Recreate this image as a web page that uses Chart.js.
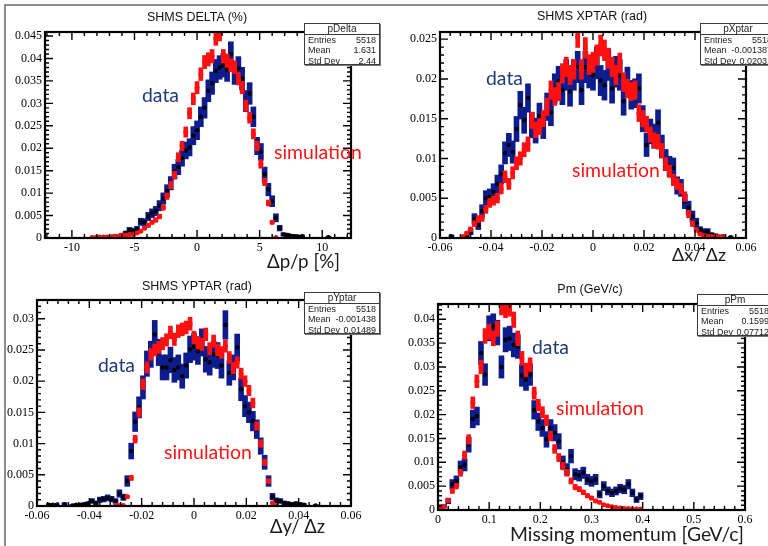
<!DOCTYPE html>
<html>
<head>
<meta charset="utf-8">
<script src="https://cdn.jsdelivr.net/npm/chart.js@4.4.1/dist/chart.umd.min.js"></script>
<style>
  html, body { margin: 0; padding: 0; background: #fff; }
  body { width: 768px; height: 546px; position: relative; overflow: hidden; }
  canvas { position: absolute; left: 0; top: 0; }
  .edge-top { position: absolute; left: 4px; top: 4px; width: 764px; height: 2px; background: #8c8c8c; }
  .edge-left { position: absolute; left: 4px; top: 4px; width: 2px; height: 542px; background: #8c8c8c; }
  .txt { position: absolute; white-space: nowrap; line-height: 1; }
  .title { font-family: 'Liberation Sans', Arial, sans-serif; font-size: 12.5px; color: #111; transform: translate(-50%, -50%); }
  .big { font-family: Lato, sans-serif; font-size: 20px; color: #1a1a1a; transform: translateY(-50%); }
  .data { color: #203a78; }
  .sim { color: #ff1414; }
  .stats { position: absolute; width: 76px; height: 42px; box-sizing: border-box; border: 1px solid #3a3a3a;
           box-shadow: 1px 1px 0 #777; background: #fff; font-family: 'Liberation Sans', Arial, sans-serif;
           font-size: 9px; color: #222; z-index: 5; }
  .stats .hd { height: 10px; line-height: 10px; text-align: center; font-size: 10px; border-bottom: 1px solid #3a3a3a; }
  .stats .row { position: relative; height: 10.3px; line-height: 10.3px; white-space: nowrap; }
  .stats .row span { position: absolute; top: 0; }
  .stats .row span:first-child { left: 3px; }
  .stats .row span:last-child { right: 3px; }
</style>
</head>
<body>
<div class="edge-top"></div>
<div class="edge-left"></div>

<canvas id="cDelta" width="768" height="546"></canvas>
<canvas id="cXptar" width="768" height="546"></canvas>
<canvas id="cYptar" width="768" height="546"></canvas>
<canvas id="cPm" width="768" height="546"></canvas>

<!-- titles -->
<div class="txt title" style="left:197px;top:17px">SHMS DELTA (%)</div>
<div class="txt title" style="left:592px;top:16px">SHMS XPTAR (rad)</div>
<div class="txt title" style="left:197px;top:286px">SHMS YPTAR (rad)</div>
<div class="txt title" style="left:590px;top:289px">Pm (GeV/c)</div>

<!-- axis labels -->
<div class="txt big fit" data-w="73" style="left:267px;top:261px">Δp/p [%]</div>
<div class="txt big fit" data-w="54" style="left:672px;top:255px">Δx/ Δz</div>
<div class="txt big fit" data-w="55" style="left:270px;top:526px">Δy/ Δz</div>
<div class="txt big fit" data-w="234" style="left:510px;top:534px">Missing momentum [GeV/c]</div>

<!-- annotations -->
<div class="txt big data fit" data-w="37" style="left:142px;top:95px">data</div>
<div class="txt big sim fit" data-w="88" style="left:274px;top:152px">simulation</div>
<div class="txt big data fit" data-w="37" style="left:486px;top:78px">data</div>
<div class="txt big sim fit" data-w="88" style="left:572px;top:170px">simulation</div>
<div class="txt big data fit" data-w="37" style="left:98px;top:365px">data</div>
<div class="txt big sim fit" data-w="88" style="left:164px;top:452px">simulation</div>
<div class="txt big data fit" data-w="37" style="left:532px;top:347px">data</div>
<div class="txt big sim fit" data-w="88" style="left:556px;top:408px">simulation</div>

<!-- stats boxes -->
<div class="stats" style="left:304px;top:23px">
  <div class="hd">pDelta</div>
  <div class="row"><span>Entries</span><span>5518</span></div>
  <div class="row"><span>Mean</span><span>1.631</span></div>
  <div class="row"><span>Std Dev</span><span>2.44</span></div>
</div>
<div class="stats" style="left:700px;top:23px">
  <div class="hd">pXptar</div>
  <div class="row"><span>Entries</span><span>5518</span></div>
  <div class="row"><span>Mean</span><span>-0.001387</span></div>
  <div class="row"><span>Std Dev</span><span>0.02031</span></div>
</div>
<div class="stats" style="left:304px;top:292px">
  <div class="hd">pYptar</div>
  <div class="row"><span>Entries</span><span>5518</span></div>
  <div class="row"><span>Mean</span><span>-0.001438</span></div>
  <div class="row"><span>Std Dev</span><span>0.01489</span></div>
</div>
<div class="stats" style="left:697px;top:294px">
  <div class="hd">pPm</div>
  <div class="row"><span>Entries</span><span>5518</span></div>
  <div class="row"><span>Mean</span><span>0.1599</span></div>
  <div class="row"><span>Std Dev</span><span>0.07712</span></div>
</div>

<script>
// ---- data (bin centres and normalised bin contents) ----
const deltaBins = [-8.4, -8.1, -7.8, -7.5, -7.2, -6.9, -6.6, -6.3, -6.0, -5.7, -5.4, -5.1, -4.8, -4.5, -4.2, -3.9,
  -3.6, -3.3, -3.0, -2.7, -2.4, -2.1, -1.8, -1.5, -1.2, -0.9, -0.6, -0.3, 0.0, 0.3, 0.6, 0.9,
  1.2, 1.5, 1.8, 2.1, 2.4, 2.7, 3.0, 3.3, 3.6, 3.9, 4.2, 4.5, 4.8, 5.1, 5.4, 5.7,
  6.0, 6.3, 6.6, 6.9, 7.2, 7.5, 7.8, 8.1, 8.4, 8.7, 9.0, 9.3, 9.6, 9.9, 10.2, 10.5];
const deltaData = [null, null, null, null, 0.0002, null, 0.0004, 0.0004, 0.0007, 0.0011, 0.0018, 0.0016, 0.0020, 0.0036, 0.0035, 0.0048,
  0.0055, 0.0060, 0.0072, 0.0088, 0.0105, 0.0122, 0.0148, 0.0158, 0.0178, 0.0195, 0.0202, 0.0228, 0.0240, 0.0270, 0.0290, 0.0328,
  0.0345, 0.0372, 0.0380, 0.0385, 0.0375, 0.0410, 0.0368, 0.0378, 0.0355, 0.0305, 0.0322, 0.0270, 0.0205, 0.0192, 0.0142, 0.0108,
  0.0082, 0.0045, 0.0022, 0.0008, 0.0007, 0.0005, 0.0004, 0.0003, 0.0004, null, null, null, null, null, null, 0.0002];
const deltaSim = [0.0001, 0.0001, 0.0002, 0.0002, 0.0002, 0.0003, 0.0004, 0.0004, 0.0006, 0.0006, 0.0008, 0.0008, 0.0011, 0.0015, 0.0022, 0.0028,
  0.0035, 0.0040, 0.0048, 0.0068, 0.0093, 0.0118, 0.0140, 0.0180, 0.0205, 0.0236, 0.0278, 0.0310, 0.0335, 0.0365, 0.0392, 0.0398,
  0.0405, 0.0445, 0.0455, 0.0405, 0.0395, 0.0385, 0.0380, 0.0355, 0.0335, 0.0295, 0.0268, 0.0232, 0.0205, 0.0165, 0.0125, 0.0078,
  0.0035, 0.0001, null, null, null, null, null, null, null, null, null, null, null, null, null, null];

const ptarBins = [-0.0555, -0.054, -0.0525, -0.051, -0.0495, -0.048, -0.0465, -0.045, -0.0435, -0.042, -0.0405, -0.039, -0.0375, -0.036, -0.0345,
  -0.033, -0.0315, -0.03, -0.0285, -0.027, -0.0255, -0.024, -0.0225, -0.021, -0.0195, -0.018, -0.0165, -0.015, -0.0135, -0.012,
  -0.0105, -0.009, -0.0075, -0.006, -0.0045, -0.003, -0.0015, 0, 0.0015, 0.003, 0.0045, 0.006, 0.0075, 0.009, 0.0105,
  0.012, 0.0135, 0.015, 0.0165, 0.018, 0.0195, 0.021, 0.0225, 0.024, 0.0255, 0.027, 0.0285, 0.03, 0.0315, 0.033,
  0.0345, 0.036, 0.0375, 0.039, 0.0405, 0.042, 0.0435, 0.045, 0.0465, 0.048, 0.0495, 0.051, 0.0525, 0.054, 0.0555];
const xptarData = [0.0002, null, null, null, 0.0002, 0.0008, 0.0024, 0.0016, 0.0034, 0.0050, 0.0052, 0.0058, 0.0068, 0.0080, 0.0107,
  0.0117, 0.0108, 0.0137, 0.0167, 0.0148, 0.0176, 0.0142, 0.0135, 0.0153, 0.0141, 0.0165, 0.0158, 0.0188, 0.0197, 0.0186,
  0.0205, 0.0184, 0.0205, 0.0215, 0.0186, 0.0215, 0.0208, 0.0205, 0.0220, 0.0198, 0.0192, 0.0218, 0.0188, 0.0209, 0.0205,
  0.0172, 0.0196, 0.0180, 0.0182, 0.0188, 0.0150, 0.0117, 0.0134, 0.0128, 0.0145, 0.0115, 0.0098, 0.0090, 0.0088, 0.0066,
  0.0063, 0.0046, 0.0038, 0.0027, 0.0019, 0.0010, 0.0008, 0.0008, 0.0004, 0.0003, 0.0001, 0.0002, null, 0.0001, null];
const xptarSim = [null, null, null, 0.0002, 0.0006, 0.0011, 0.0018, 0.0024, 0.0025, 0.0036, 0.0044, 0.0047, 0.0050, 0.0062, 0.0077,
  0.0068, 0.0082, 0.0094, 0.0100, 0.0111, 0.0118, 0.0148, 0.0136, 0.0140, 0.0150, 0.0165, 0.0186, 0.0178, 0.0184, 0.0207,
  0.0215, 0.0205, 0.0212, 0.0253, 0.0212, 0.0239, 0.0218, 0.0221, 0.0230, 0.0242, 0.0236, 0.0226, 0.0215, 0.0205, 0.0220,
  0.0196, 0.0188, 0.0184, 0.0186, 0.0157, 0.0150, 0.0143, 0.0130, 0.0123, 0.0121, 0.0110, 0.0093, 0.0084, 0.0073, 0.0068,
  0.0062, 0.0052, 0.0030, 0.0018, 0.0010, 0.0005, 0.0003, 0.0002, 0.0002, 0.0002, 0.0002, 0.0001, null, null, null];

const yptarData = [0.0002, 0.0002, 0.0002, null, 0.0003, null, 0.0001, 0.0002, 0.0002, 0.0003, 0.0004, 0.0008, 0.0005, 0.0010, 0.0011,
  0.0013, 0.0011, 0.0008, 0.0020, 0.0014, 0.0040, 0.0088, 0.0135, 0.0158, 0.0190, 0.0228, 0.0243, 0.0275, 0.0246, 0.0222,
  0.0222, 0.0234, 0.0218, 0.0222, 0.0208, 0.0225, 0.0251, 0.0255, 0.0248, 0.0262, 0.0235, 0.0230, 0.0243, 0.0241, 0.0225,
  0.0290, 0.0213, 0.0222, 0.0254, 0.0187, 0.0160, 0.0150, 0.0136, 0.0123, 0.0096, 0.0070, 0.0040, 0.0015, 0.0009, 0.0008,
  0.0005, 0.0004, 0.0003, 0.0004, 0.0003, 0.0002, null, null, 0.0001, null, null, null, null, null, null];
const yptarSim = [null, null, null, null, null, null, null, null, null, null, null, null, null, null, null,
  null, null, 0.0001, 0.0001, 0.0001, 0.0015, 0.0045, 0.0107, 0.0150, 0.0195, 0.0222, 0.0243, 0.0250, 0.0254, 0.0260,
  0.0266, 0.0278, 0.0267, 0.0280, 0.0283, 0.0286, 0.0292, 0.0270, 0.0262, 0.0259, 0.0275, 0.0252, 0.0264, 0.0250, 0.0246,
  0.0256, 0.0238, 0.0221, 0.0230, 0.0212, 0.0200, 0.0185, 0.0165, 0.0128, 0.0100, 0.0070, 0.0040, 0.0005, 0.0001, null,
  null, null, null, null, null, null, null, null, null, null, null, null, null, null, null];

const pmBins = [0.004, 0.012, 0.02, 0.028, 0.036, 0.044, 0.052, 0.06, 0.068, 0.076,
  0.084, 0.092, 0.1, 0.108, 0.116, 0.124, 0.132, 0.14, 0.148, 0.156,
  0.164, 0.172, 0.18, 0.188, 0.196, 0.204, 0.212, 0.22, 0.228, 0.236,
  0.244, 0.252, 0.26, 0.268, 0.276, 0.284, 0.292, 0.3, 0.308, 0.316,
  0.324, 0.332, 0.34, 0.348, 0.356, 0.364, 0.372, 0.38, 0.388, 0.396];
const pmData = [0.0005, 0.0008, 0.0019, 0.0054, 0.0061, 0.0090, 0.0095, 0.0137, 0.0191, 0.0197,
  0.0329, 0.0284, 0.0381, 0.0385, 0.0372, 0.0300, 0.0357, 0.0360, 0.0346, 0.0343,
  0.0282, 0.0273, 0.0284, 0.0210, 0.0185, 0.0172, 0.0148, 0.0172, 0.0162, 0.0144,
  0.0100, 0.0085, 0.0113, 0.0075, 0.0072, 0.0078, 0.0064, 0.0060, 0.0064, 0.0033,
  0.0050, 0.0040, 0.0036, 0.0040, 0.0045, 0.0043, 0.0054, 0.0036, 0.0022, 0.0029];
const pmSim = [0.0001, 0.0008, 0.0020, 0.0040, 0.0050, 0.0078, 0.0115, 0.0148, 0.0225, 0.0270,
  0.0300, 0.0365, 0.0374, 0.0360, 0.0380, 0.0426, 0.0420, 0.0423, 0.0399, 0.0360,
  0.0318, 0.0294, 0.0305, 0.0245, 0.0220, 0.0205, 0.0188, 0.0155, 0.0128, 0.0110,
  0.0092, 0.0078, 0.0061, 0.0048, 0.0044, 0.0037, 0.0030, 0.0025, 0.0019, 0.0016,
  0.0011, 0.0009, 0.0007, 0.0005, 0.0004, 0.0003, 0.0003, 0.0002, 0.0002, 0.0002];

// entries used for the statistical error bars (data from stats box, simulation)
const dataEntries = 5518;
const simEntries = { delta: 18000, xptar: 14000, yptar: 27000, pm: 15000 };

// colours
const errBlue = '#0d1d8e';
const simRed = '#ff1010';

// ROOT-like frame: box plus inward major/minor ticks on all four sides
const rootFrame = {
  id: 'rootFrame',
  afterDatasetsDraw(chart, args, opts) {
    const { ctx, chartArea: a, scales: { x, y } } = chart;
    ctx.save();
    ctx.strokeStyle = '#000';
    ctx.lineWidth = 1.4;
    ctx.beginPath();
    const marks = (scale, major, minor, cb) => {
      const n0 = Math.ceil(scale.min / minor - 1e-6), n1 = Math.floor(scale.max / minor + 1e-6);
      for (let n = n0; n <= n1; n++) {
        const v = n * minor;
        const r = v / major;
        const isMajor = Math.abs(r - Math.round(r)) < 1e-6;
        cb(scale.getPixelForValue(v), isMajor ? 8 : 4);
      }
    };
    marks(x, opts.xMajor, opts.xMinor, (px, len) => {
      ctx.moveTo(px, a.bottom); ctx.lineTo(px, a.bottom - len);
      ctx.moveTo(px, a.top); ctx.lineTo(px, a.top + len);
    });
    marks(y, opts.yMajor, opts.yMinor, (py, len) => {
      ctx.moveTo(a.left, py); ctx.lineTo(a.left + len, py);
      ctx.moveTo(a.right, py); ctx.lineTo(a.right - len, py);
    });
    ctx.stroke();
    ctx.lineWidth = 2.2;
    ctx.strokeRect(a.left, a.top, a.right - a.left, a.bottom - a.top);
    ctx.restore();
  }
};

const points = (bins, vals) => bins.map((x, i) => ({ x: x, y: vals[i] })).filter(d => d.y !== null);
const errBars = (bins, vals, n) => points(bins, vals).map(d => {
  const e = Math.sqrt(d.y / n);
  return { x: d.x, y: [d.y - e, d.y + e] };
});
const tickText = v => String(+v.toFixed(4));
const tickFont = { family: "'Liberation Serif', 'Times New Roman', serif", size: 12 };

function makePanel(id, p) {
  const cfg = {
    type: 'bar',
    data: {
      datasets: [
        { type: 'scatter', data: points(p.bins, p.sim), backgroundColor: simRed, borderWidth: 0, pointRadius: 2.5, order: 0 },
        { data: errBars(p.bins, p.sim, p.simN), backgroundColor: simRed, barThickness: 4, grouped: false, borderWidth: 0, order: 1 },
        { type: 'scatter', data: points(p.bins, p.data), backgroundColor: '#000', borderWidth: 0, pointRadius: 2.2, order: 2 },
        { data: errBars(p.bins, p.data, dataEntries), backgroundColor: errBlue, barThickness: 5, grouped: false, borderWidth: 0, order: 3 }
      ]
    },
    options: {
      responsive: false,
      animation: false,
      devicePixelRatio: 1,
      events: [],
      layout: { padding: { left: p.frame[0] - 36, top: p.frame[1], right: 768 - p.frame[2], bottom: 546 - p.frame[3] - 22 } },
      plugins: {
        legend: { display: false },
        tooltip: { enabled: false },
        rootFrame: { xMajor: p.xStep, xMinor: p.xMinor, yMajor: 0.005, yMinor: 0.001 }
      },
      scales: {
        x: {
          type: 'linear', min: p.xRange[0], max: p.xRange[1], offset: false,
          grid: { display: false, drawTicks: false, offset: false }, border: { display: false },
          ticks: { stepSize: p.xStep, includeBounds: false, autoSkip: false, maxRotation: 0, padding: 3,
                   font: tickFont, color: '#000', callback: tickText },
          afterFit: s => { s.height = 22; }
        },
        y: {
          type: 'linear', min: 0, max: p.yMax,
          grid: { display: false, drawTicks: false }, border: { display: false },
          ticks: { stepSize: 0.005, includeBounds: false, autoSkip: false, padding: 3,
                   font: tickFont, color: '#000', callback: tickText },
          afterFit: s => { s.width = 36; }
        }
      }
    },
    plugins: [rootFrame]
  };
  return new Chart(document.getElementById(id), cfg);
}

const deltaChart = makePanel('cDelta', {
  bins: deltaBins, data: deltaData, sim: deltaSim, simN: simEntries.delta,
  frame: [45, 32, 351, 238], xRange: [-12.15, 12.3], xStep: 5, xMinor: 1, yMax: 0.0459
});
const xptarChart = makePanel('cXptar', {
  bins: ptarBins, data: xptarData, sim: xptarSim, simN: simEntries.xptar,
  frame: [440, 32, 746, 238], xRange: [-0.06, 0.06], xStep: 0.02, xMinor: 0.004, yMax: 0.0259
});
const yptarChart = makePanel('cYptar', {
  bins: ptarBins, data: yptarData, sim: yptarSim, simN: simEntries.yptar,
  frame: [37, 300, 351, 506], xRange: [-0.06, 0.06], xStep: 0.02, xMinor: 0.004, yMax: 0.033
});
const pmChart = makePanel('cPm', {
  bins: pmBins, data: pmData, sim: pmSim, simN: simEntries.pm,
  frame: [438, 304, 745, 510], xRange: [0, 0.6], xStep: 0.1, xMinor: 0.02, yMax: 0.0432
});

// size the slide-style labels to the widths they have in the figure
document.querySelectorAll('.fit').forEach(el => {
  const w = +el.dataset.w;
  const fs = parseFloat(getComputedStyle(el).fontSize);
  el.style.fontSize = (fs * w / el.getBoundingClientRect().width).toFixed(2) + 'px';
});
</script>
</body>
</html>
